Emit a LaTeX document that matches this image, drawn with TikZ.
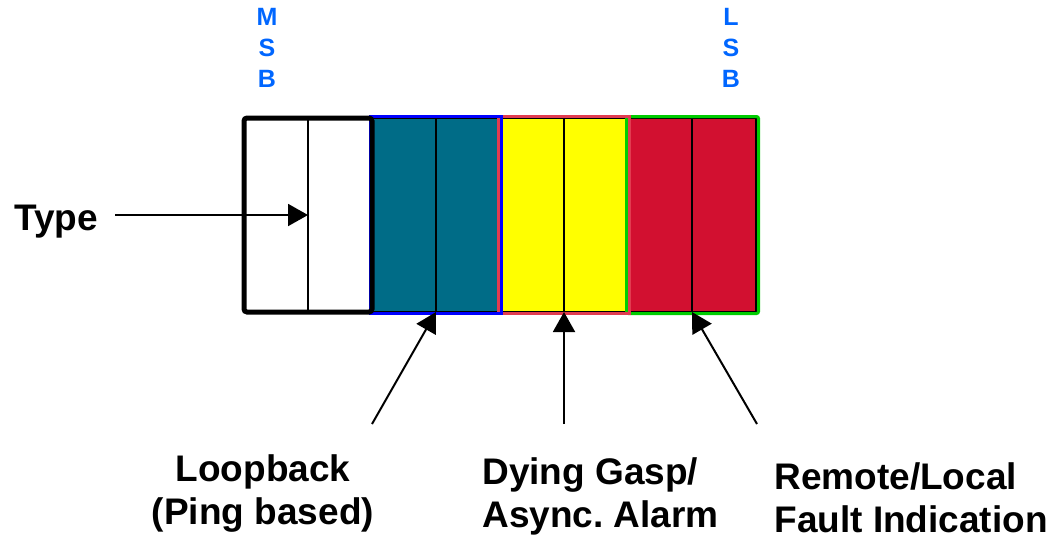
\documentclass[tikz,border=0pt]{standalone}
\usepackage{fontspec}
\setmainfont{Liberation Sans}
\usetikzlibrary{arrows.meta}
\frenchspacing

\definecolor{loopteal}{RGB}{0,108,135}
\definecolor{gaspyellow}{RGB}{255,255,0}
\definecolor{faultred}{RGB}{210,16,48}
\definecolor{redline}{RGB}{225,60,80}
\definecolor{greenline}{RGB}{0,204,0}
\definecolor{msbblue}{RGB}{0,102,255}

\begin{document}
\begin{tikzpicture}[x=0.5pt,y=-0.5pt,
  bitcell/.style={draw=black, line width=1pt, minimum width=32pt, minimum height=97pt, inner sep=0pt, outer sep=0pt},
  pointer/.style={line width=1pt, -{Triangle[length=10pt,width=11pt]}},
  caption/.style={font=\bfseries\fontsize{18.5}{21.5}\selectfont, inner sep=0pt},
  sidelabel/.style={font=\bfseries\fontsize{12.5}{15.5}\selectfont, text=msbblue, align=center, inner sep=0pt, anchor=north}]
  \useasboundingbox (0,0) rectangle (1047,538);

  % 1. The eight bits of the field
  \foreach \i/\col in {1/white,2/white,3/loopteal,4/loopteal,5/gaspyellow,6/gaspyellow,7/faultred,8/faultred}
    \node[bitcell, fill=\col] (c\i) at ({212+64*\i},215) {};

  % 2. Outline of each pair of bits
  \draw[greenline, line width=1.5pt, rounded corners=1pt] ([shift={(-1.5,-1.5)}]c7.north west) rectangle ([shift={(2.5,1.5)}]c8.south east);
  \draw[redline, line width=1.5pt] ([shift={(-1.5,-1.5)}]c5.north west) rectangle ([shift={(1.5,1.5)}]c6.south east);
  \draw[blue, line width=1.5pt] ([shift={(-1.5,-1.5)}]c3.north west) rectangle ([shift={(1.5,1.5)}]c4.south east);
  \draw[line width=2.5pt, rounded corners=1.5pt] (c1.north west) rectangle (c2.south east);

  % 3. MSB and LSB marks
  \node[sidelabel] (msb) at (267,8) {M\\S\\B};
  \node[sidelabel] (lsb) at (731,8) {L\\S\\B};

  % 4. Labels
  \node[caption, anchor=base west] (typeLabel) at (14,230) {Type};
  \node[caption, align=center, anchor=north] (loopLabel) at (263,454) {Loopback\\(Ping based)};
  \node[caption, align=left, anchor=north west] (gaspLabel) at (482,457) {Dying Gasp/\\Async. Alarm};
  \node[caption, align=left, anchor=north west] (faultLabel) at (774,462) {Remote/Local\\Fault Indication};

  % 5. Pointers from the labels to the bits
  \coordinate (typeTail) at (115,215);
  \coordinate (loopTail) at (372,424);
  \coordinate (gaspTail) at (564,424);
  \coordinate (faultTail) at (757,424);
  \draw[pointer] (typeTail) -- (c1.east);
  \draw[pointer] (loopTail) -- (c3.south east);
  \draw[pointer] (gaspTail) -- (c5.south east);
  \draw[pointer] (faultTail) -- (c7.south east);
\end{tikzpicture}
\end{document}
